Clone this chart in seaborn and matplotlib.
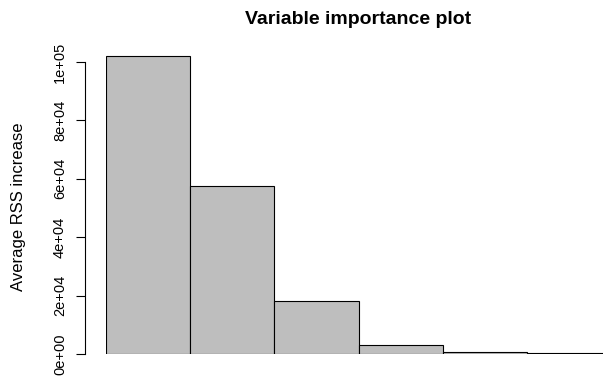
import pandas as pd
import matplotlib
matplotlib.use("Agg")
import matplotlib.pyplot as plt
import matplotlib.transforms as mtransforms
import seaborn as sns

# values
variables = ["V1", "V2", "V3", "V4", "V5", "V6"]
rss_increase = [102000, 57500, 18100, 3100, 750, 400]
tick_values = [0, 20000, 40000, 60000, 80000, 100000]
tick_labels = ["0e+00", "2e+04", "4e+04", "6e+04", "8e+04", "1e+05"]

df = pd.DataFrame({"variable": variables, "rss": rss_increase})

sns.set_style("white")
plt.rcParams["font.family"] = ["Liberation Sans", "DejaVu Sans"]
plt.rcParams["text.color"] = "black"

fig = plt.figure(figsize=(6.03, 3.78), dpi=100)
# axes from x=106 to 603 px, y bottom at 354 px
ax = fig.add_axes([106 / 603, (378 - 354) / 378, (603 - 106) / 603, (354 - 50) / 378])

sns.barplot(data=df, x="variable", y="rss", color="#BEBEBE", saturation=1,
            width=1.0, edgecolor="black", linewidth=0.8, ax=ax)

ax.set_xlim(-0.5, 5.4)
ax.set_ylim(0, 104100)
ax.set_xticks([])
ax.set_xlabel("")
ax.set_ylabel("")
ax.set_yticks(tick_values)
ax.tick_params(axis="y", left=True, length=6.5, width=0.8, color="black",
               labelleft=False)

# R-style rotated tick labels, drawn as text next to the axis
trans = mtransforms.blended_transform_factory(fig.transFigure, ax.transData)
for v, lab in zip(tick_values, tick_labels):
    ax.text(67 / 603, v, lab, transform=trans, rotation=90, rotation_mode="anchor",
            ha="center", va="bottom", fontsize=10.5, color="black", clip_on=False)

fig.text(19 / 603, 1 - 207 / 378, "Average RSS increase", rotation=90,
         ha="center", va="center", fontsize=12, color="black")

for s in ["top", "right", "bottom"]:
    ax.spines[s].set_visible(False)
ax.spines["left"].set_position(("outward", 15))
ax.spines["left"].set_bounds(0, 100000)
ax.spines["left"].set_color("black")
ax.spines["left"].set_linewidth(0.8)

fig.text(358 / 603, 1 - 19 / 378, "Variable importance plot", ha="center", va="center",
         fontsize=14, fontweight="bold", color="black")

fig.savefig("out.png", dpi=100)
